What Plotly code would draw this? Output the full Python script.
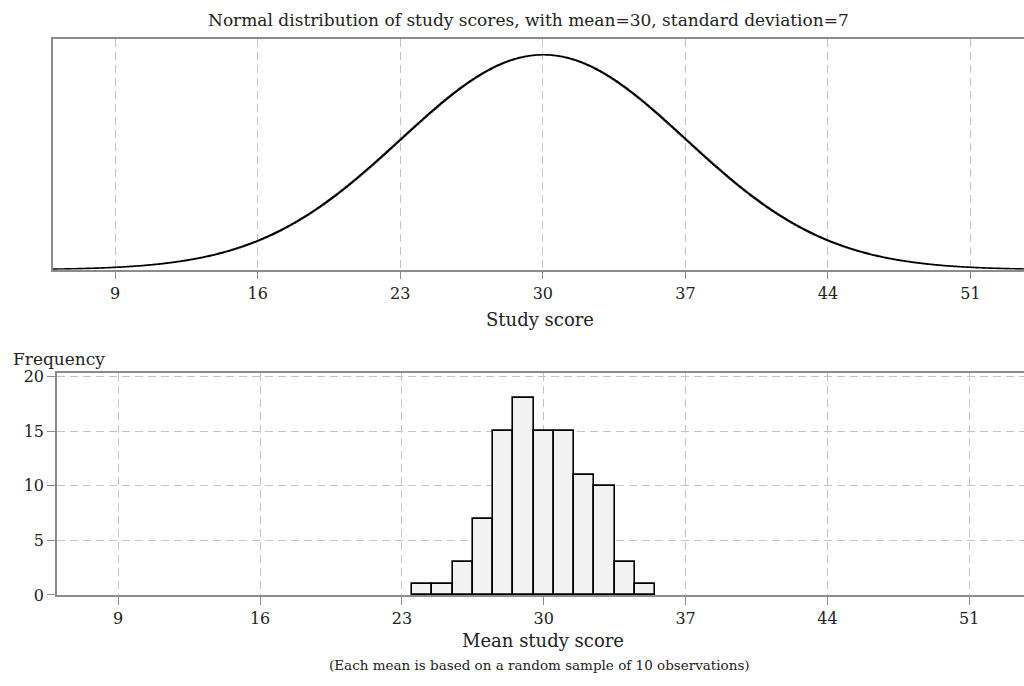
import numpy as np
import plotly.graph_objects as go

# ---- data ----
MEAN = 30
SD = 7
x_ticks = [9, 16, 23, 30, 37, 44, 51]
y_ticks_hist = [0, 5, 10, 15, 20]
bin_centers = [24, 25, 26, 27, 28, 29, 30, 31, 32, 33, 34, 35]
bin_counts = [1, 1, 3, 7, 15, 18, 15, 15, 11, 10, 3, 1]
BIN_WIDTH = 1

curve_x = np.arange(5.9, 53.7, 0.05)
curve_y = np.exp(-0.5 * ((curve_x - MEAN) / SD) ** 2) / (SD * np.sqrt(2 * np.pi))

FONT = "DejaVu Serif, Liberation Serif, serif"
W, H = 1024, 686
AXC = "#8c8c8c"
GRIDC = "#c4c4c4"

fig = go.Figure()
fig.add_trace(go.Scatter(x=curve_x, y=curve_y, mode="lines",
                         line=dict(color="black", width=1.6, shape="hv"),
                         xaxis="x", yaxis="y", hoverinfo="skip", showlegend=False))
fig.add_trace(go.Bar(x=bin_centers, y=bin_counts, width=BIN_WIDTH,
                     marker=dict(color="#f2f2f2", line=dict(color="black", width=1.6)),
                     xaxis="x2", yaxis="y2", showlegend=False))

def px_x(p):
    return p / W

def px_y(p):
    return 1 - p / H

common_x = dict(tickvals=x_ticks, ticks="outside", ticklen=8, tickcolor=AXC, tickwidth=1,
                showline=True, linecolor=AXC, linewidth=1.5,
                showgrid=True, gridcolor=GRIDC, griddash="8px,5px", gridwidth=1.2,
                zeroline=False, tickfont=dict(family=FONT, size=16, color="#222"),
                fixedrange=True)

fig.update_layout(
    width=W, height=H,
    margin=dict(l=0, r=0, t=0, b=0),
    plot_bgcolor="white", paper_bgcolor="white",
    font=dict(family=FONT, color="#222"),
    bargap=0,
    xaxis=dict(domain=[px_x(52.7), 1], range=[5.93, 53.63], anchor="y", mirror=True, **common_x),
    yaxis=dict(domain=[px_y(270), px_y(33.7)], range=[0, 0.0612], showticklabels=False,
               ticks="", showgrid=False, showline=True, linecolor=AXC, linewidth=1.5,
               zeroline=False, anchor="x"),
    xaxis2=dict(domain=[px_x(57), 1], range=[5.98, 53.7], anchor="y2", mirror=True, **common_x),
    yaxis2=dict(domain=[px_y(603), px_y(375.7)], range=[0, 20.32], tickvals=y_ticks_hist,
                ticks="outside", ticklen=8, tickcolor=AXC, showline=True, linecolor=AXC,
                linewidth=1.5, showgrid=True, gridcolor=GRIDC, griddash="8px,5px", gridwidth=1.2,
                zeroline=False, tickfont=dict(family=FONT, size=16, color="#222"), anchor="x2"),
)

ann = [
    dict(text="Normal distribution of study scores, with mean=30, standard deviation=7",
         x=px_x(528), y=px_y(14), size=17),
    dict(text="Study score", x=px_x(540), y=px_y(321), size=18),
    dict(text="Mean study score", x=px_x(543), y=px_y(650), size=18),
    dict(text="(Each mean is based on a random sample of 10 observations)",
         x=px_x(539), y=px_y(675), size=13.5),
]
for a in ann:
    fig.add_annotation(text=a["text"], x=a["x"], y=a["y"], xref="paper", yref="paper",
                       xanchor="center", yanchor="middle", showarrow=False,
                       font=dict(family=FONT, size=a["size"], color="#222"))
fig.add_annotation(text="Frequency", x=px_x(11), y=px_y(361), xref="paper", yref="paper",
                   xanchor="left", yanchor="middle", showarrow=False,
                   font=dict(family=FONT, size=17, color="#222"))

fig.write_html("out.html")
